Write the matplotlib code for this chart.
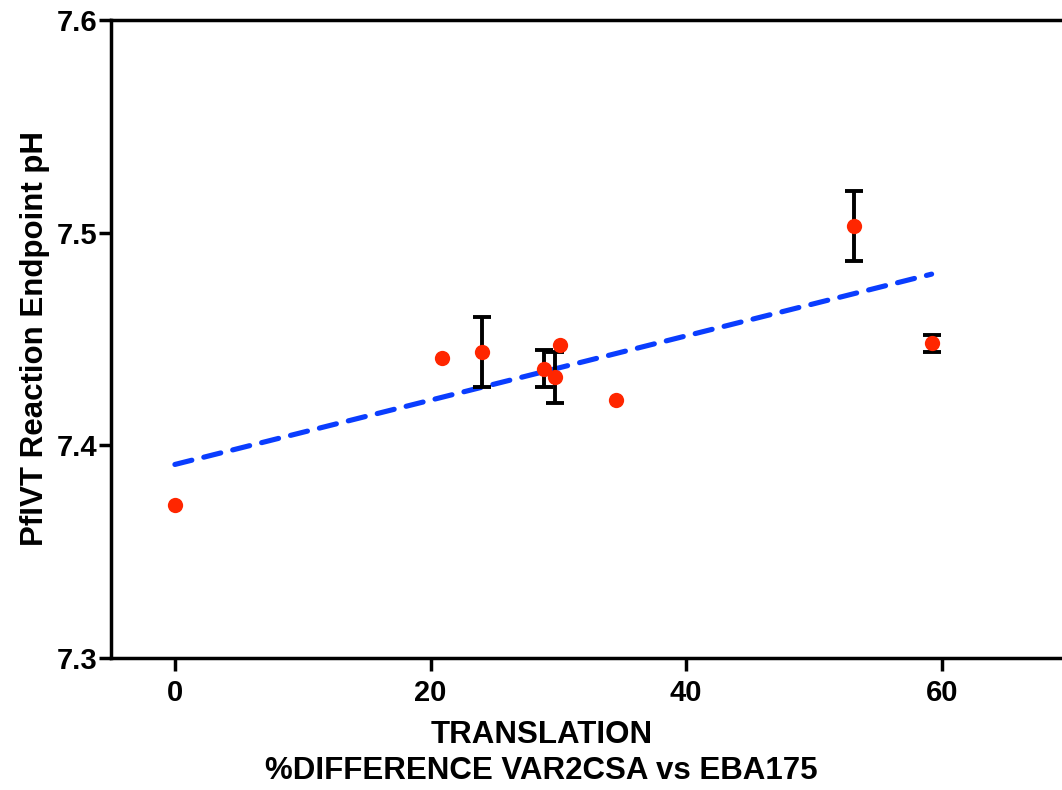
import matplotlib
matplotlib.use("Agg")
import matplotlib.pyplot as plt
import numpy as np

plt.rcParams['font.family'] = ['Liberation Sans', 'DejaVu Sans']
plt.rcParams['font.weight'] = 'bold'

# % difference (translation) vs endpoint pH, with SD where shown
pct_diff = [0.0, 20.9, 24.0, 28.9, 29.7, 30.1, 34.5, 53.1, 59.2]
end_ph = [7.372, 7.441, 7.444, 7.436, 7.432, 7.447, 7.4215, 7.503, 7.448]
ph_err = [0.0, 0.0, 0.0165, 0.0087, 0.012, 0.0, 0.0, 0.0164, 0.0039]

# linear fit line
fit_x = [0.0, 59.2]
fit_y = [7.391, 7.4805]

x = np.array(pct_diff)
y = np.array(end_ph)
e = np.array(ph_err)
has_err = e > 0

fig = plt.figure(figsize=(10.62, 7.90), dpi=100)
ax = fig.add_axes([0.1045, 0.1671, 0.8955, 0.8076])

ax.plot(fit_x, fit_y, color='#0A3DFF', lw=3.7, dashes=(3.4, 2.4),
        dash_capstyle='round', zorder=2)
ax.errorbar(x[has_err], y[has_err], yerr=e[has_err], fmt='none',
            ecolor='black', elinewidth=2.8, capsize=6.5, capthick=2.8, zorder=3)
ax.plot(x, y, 'o', color='#FF2600', markersize=11, markeredgewidth=0, zorder=4)

ax.set_xlim(-5, 69.4)
ax.set_ylim(7.3, 7.6)
ax.set_xticks([0, 20, 40, 60])
ax.set_yticks([7.3, 7.4, 7.5, 7.6])
ax.set_yticklabels(['7.3', '7.4', '7.5', '7.6'])

for s in ['left', 'bottom', 'top']:
    ax.spines[s].set_linewidth(2.5)
ax.spines['right'].set_visible(False)

ax.tick_params(axis='both', direction='out', length=9, width=2.5,
               labelsize=21, top=False, right=False)
ax.tick_params(axis='y', pad=1)
ax.tick_params(axis='x', pad=6)
for lab in ax.get_xticklabels() + ax.get_yticklabels():
    lab.set_fontweight('bold')

ax.set_xlabel('TRANSLATION\n%DIFFERENCE VAR2CSA vs EBA175', fontsize=22.5,
              fontweight='bold', linespacing=1.28)
ax.xaxis.set_label_coords(0.453, -0.097)
ax.set_ylabel('PfIVT Reaction Endpoint pH', fontsize=22.5, fontweight='bold')
ax.yaxis.set_label_coords(-0.064, 0.5)

fig.savefig('out.png', dpi=100)
